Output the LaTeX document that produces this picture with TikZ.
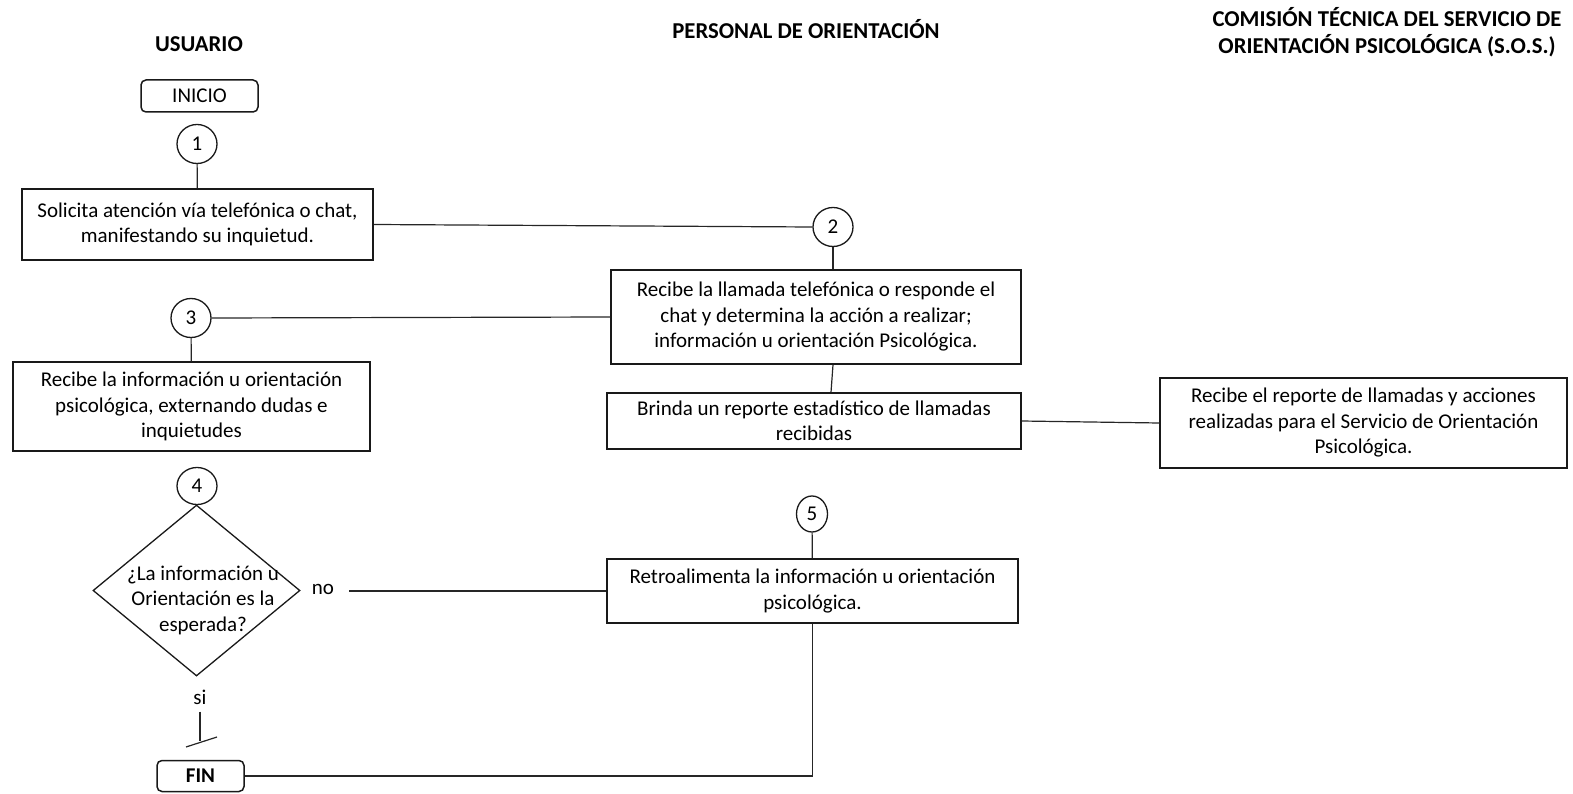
\documentclass[tikz,border=0pt]{standalone}
\usepackage{fontspec}
\setmainfont{Carlito}
\usetikzlibrary{shapes.geometric}
\begin{document}
\begin{tikzpicture}[x=1pt,y=-1pt,
  txt/.style={font=\fontsize{21}{25.5}\selectfont, align=center, inner sep=0pt},
  box/.style={txt, draw=black!90, line width=1.5pt},
  term/.style={box, rounded corners=5pt},
  num/.style={txt, draw=black!90, ellipse, line width=1.3pt},
  conn/.style={line width=1.2pt, draw=black!85},
  title/.style={font=\fontsize{22.7}{27.5}\selectfont\bfseries, align=center, inner sep=0pt}]
\useasboundingbox (0,0) rectangle (1573,794);

% titles
\node[title] (tu) at (199,44) {USUARIO};
\node[title] (tp) at (806,29) {PERSONAL DE ORIENTACIÓN};
\node[title] (tc) at (1387,32) {COMISIÓN TÉCNICA DEL SERVICIO DE\\ORIENTACIÓN PSICOLÓGICA (S.O.S.)};

% terminals
\node[term, minimum width=117pt, minimum height=32pt] (ini) at (199.5,96) {INICIO};
\node[term, minimum width=87pt, minimum height=31pt] (fin) at (200.5,776) {\bfseries FIN};

% numbered circles
\node[num, minimum width=40pt, minimum height=39pt] (c1) at (197,144) {1};
\node[num, minimum width=40pt, minimum height=39pt] (c2) at (833,227) {2};
\node[num, minimum width=40pt, minimum height=39pt] (c3) at (191,318) {3};
\node[num, minimum width=40pt, minimum height=37pt] (c4) at (197,486) {4};
\node[num, minimum width=31pt, minimum height=36pt] (c5) at (812,514) {5};

% boxes
\node[box, minimum width=351pt, minimum height=71pt] (b1) at (197.5,224.5)
  {Solicita atención vía telefónica o chat,\\manifestando su inquietud.};
\node[box, minimum width=410pt, minimum height=94pt] (b2) at (816,317)
  {Recibe la llamada telefónica o responde el\\chat y determina la acción a realizar;\\información u orientación Psicológica.};
\node[box, minimum width=357pt, minimum height=89pt] (b3) at (191.5,406.5)
  {Recibe la información u orientación\\psicológica, externando dudas e\\inquietudes};
\node[box, minimum width=414pt, minimum height=56pt] (b4) at (814,421)
  {Brinda un reporte estadístico de llamadas\\recibidas};
\node[box, minimum width=407pt, minimum height=90pt] (b5) at (1363.5,423)
  {Recibe el reporte de llamadas y acciones\\realizadas para el Servicio de Orientación\\Psicológica.};
\node[box, minimum width=411pt, minimum height=64pt] (b6) at (812.5,591)
  {Retroalimenta la información u orientación\\psicológica.};

% decision
\node[draw=black!90, line width=1.3pt, diamond, minimum width=207pt, minimum height=171pt, inner sep=0pt] (d) at (196.5,590.5) {};
\node[txt] (dt) at (203,600) {¿La información u\\Orientación es la\\esperada?};
\node[txt] (no) at (323,589) {no};
\node[txt] (si) at (200,697) {si};
\coordinate (tk) at (200,741);
\coordinate (sa) at (186,747);
\coordinate (sb) at (217,737);

% connectors
\draw[conn] (c1) -- (b1);
\draw[conn] (b1.east) -- (c2.west);
\draw[conn] (c2.south) -- (c2.south |- b2.north);
\draw[conn] (b2.west) -- (c3.east);
\draw[conn] (c3) -- (b3);
\draw[conn] (c2.south |- b2.south) -- ([xshift=-2pt]c2.south |- b4.north);
\draw[conn] (b4.east) -- (b5.west);
\draw[conn] (c4) -- (d);
\draw[conn] ([xshift=15pt,yshift=-2pt]no.east) -- (b6.west);
\draw[conn] (c5) -- (b6);
\draw[conn] ([yshift=-7pt]si.south) -- (tk);
\draw[conn] (sa) -- (sb);
\draw[conn] (b6.south) |- (fin.east);
\end{tikzpicture}
\end{document}
